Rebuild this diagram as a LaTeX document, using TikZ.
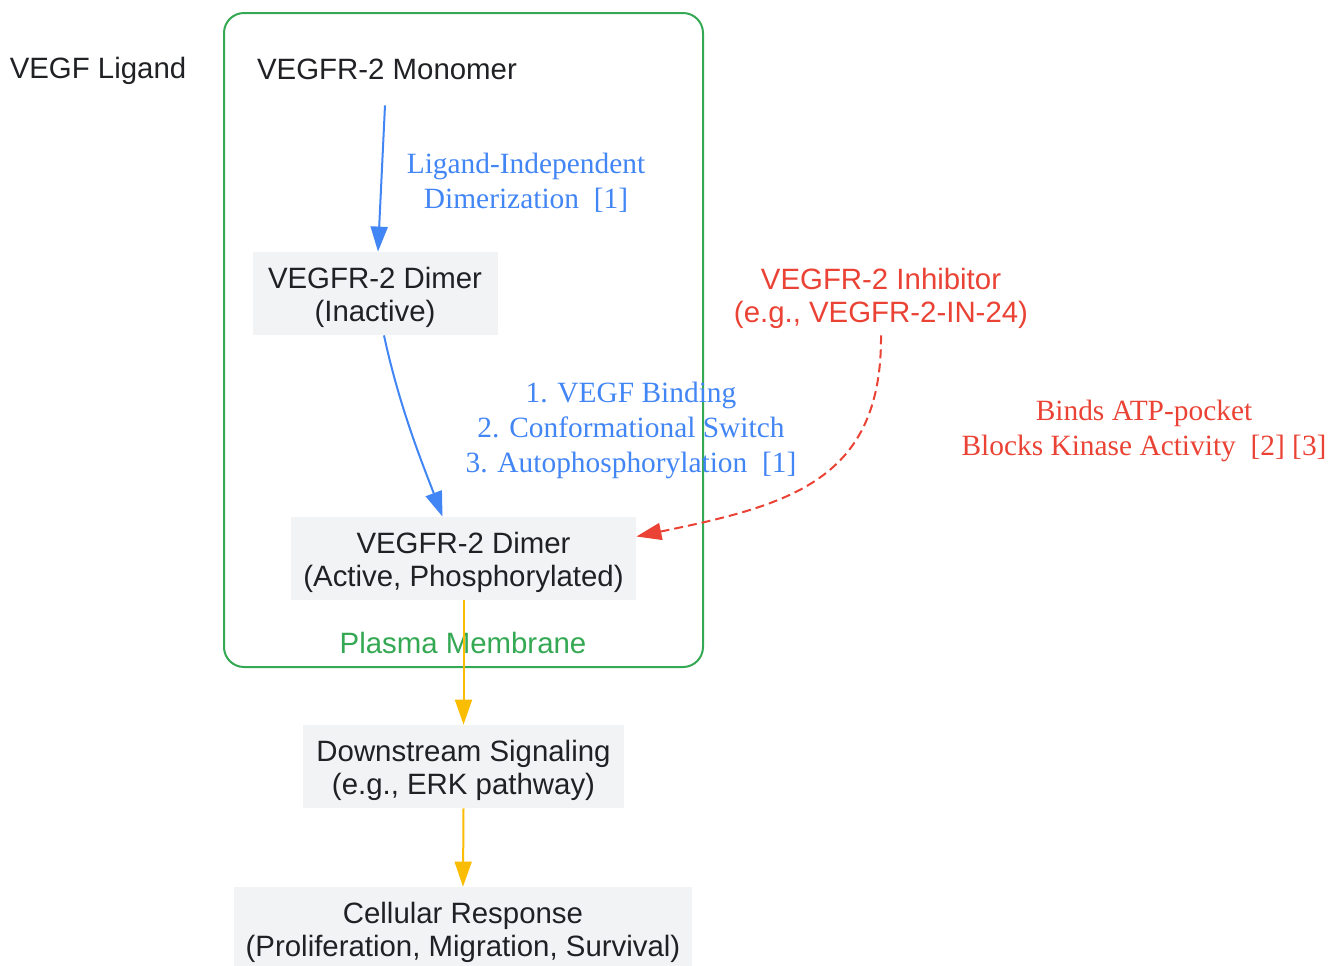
\documentclass[tikz,border=0pt]{standalone}
\usepackage{fontspec}
\setmainfont{Liberation Serif}
\setsansfont{Liberation Sans}
\usetikzlibrary{arrows.meta}
\definecolor{gblue}{HTML}{4285F4}
\definecolor{gred}{HTML}{EA4335}
\definecolor{ggreen}{HTML}{34A853}
\definecolor{gyellow}{HTML}{FBBC04}
\definecolor{boxgray}{HTML}{F1F3F4}
\definecolor{ink}{HTML}{202124}
\newcommand\topstrut[1]{\rule{0pt}{#1}}
\begin{document}
\begin{tikzpicture}[x=0.5pt, y=-0.5pt,
  lbl/.style={font=\sffamily\fontsize{14.7}{16.5}\selectfont, text=ink, align=center, inner sep=0pt},
  molbox/.style={lbl, fill=boxgray, minimum height=41.5pt},
  edgetext/.style={font=\fontsize{14.7}{17.5}\selectfont, align=center, inner sep=0pt},
  tip/.style={-{Triangle[length=12.5pt, width=8.5pt]}, line width=1pt}]
\useasboundingbox (0,0) rectangle (1328,965);
% membrane
\draw[ggreen, line width=1pt, rounded corners=10pt] (224,13) rectangle (703,667);
\node[lbl, text=ggreen] (memb) at (463,643){Plasma Membrane};
% nodes
\node[lbl] (vegf) at (98,71){VEGF Ligand};
\node[lbl, minimum height=36pt] (mono) at (387,69){VEGFR-2 Monomer};
\node[molbox, minimum width=122.5pt] (dimin) at (375,293.5){\topstrut{15pt}VEGFR-2 Dimer\\(Inactive)};
\node[molbox, minimum width=172.5pt] (act) at (463.5,558.5){\topstrut{15pt}VEGFR-2 Dimer\\(Active, Phosphorylated)};
\node[molbox, minimum width=160.5pt] (down) at (463.5,766.5){\topstrut{15pt}Downstream Signaling\\(e.g., ERK pathway)};
\node[molbox, minimum width=229pt] (resp) at (463,928.5){\topstrut{15pt}Cellular Response\\(Proliferation, Migration, Survival)};
\node[lbl, text=gred, minimum height=39pt] (inhib) at (881,296){\topstrut{13.5pt}VEGFR-2 Inhibitor\\(e.g., VEGFR-2-IN-24)};
% connectors
\draw[tip, gblue] ([xshift=-1pt]mono.south) -- ([xshift=1.5pt]dimin.north);
\node[edgetext, text=gblue] (l1) at (526,183){Ligand-Independent\\Dimerization~~[1]};
\draw[tip, gblue] ([xshift=4.5pt]dimin.south) .. controls (400,410) and (425,470) .. ([xshift=-10.5pt]act.north);
\node[edgetext, text=gblue] (l2) at (631,430){1. VEGF Binding\\2. Conformational Switch\\3. Autophosphorylation~~[1]};
\draw[tip, gred, dash pattern=on 4.5pt off 2.5pt] (inhib.south) .. controls (882,480) and (790,505) .. ([yshift=11pt]act.east);
\node[edgetext, text=gred] (l3) at (1144,431){Binds ATP-pocket\\Blocks Kinase Activity~~[2] [3]};
\draw[tip, gyellow] (act.south) -- (down.north);
\draw[tip, gyellow] (down.south) -- (resp.north);
\end{tikzpicture}
\end{document}
